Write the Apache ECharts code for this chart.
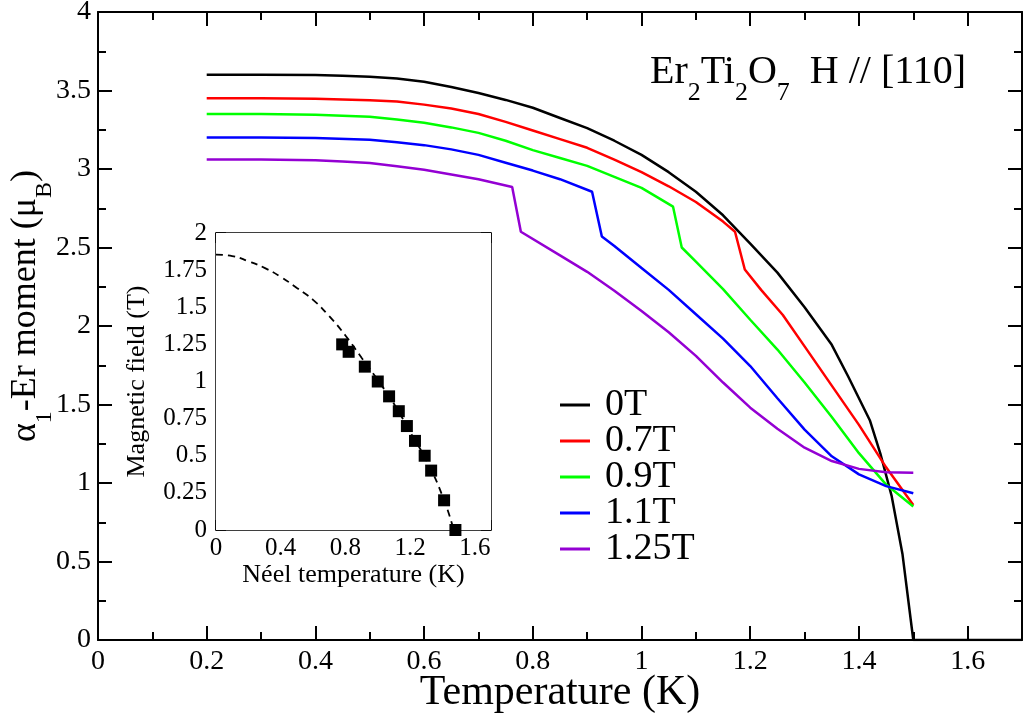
<!DOCTYPE html>
<html>
<head>
<meta charset="utf-8">
<script src="https://cdn.jsdelivr.net/npm/echarts/dist/echarts.min.js"></script>
<style>
  html, body { margin: 0; padding: 0; background: #fff; }
  #chart { width: 1028px; height: 717px; }
  /* warm up the serif face before the canvas asks for it */
  .warm { position: absolute; left: -2000px; top: 0; font-family: 'Liberation Serif'; font-size: 30px; }
</style>
</head>
<body>
<span class="warm">0123456789.T Temperature αμ</span>
<div id="chart"></div>
<script>
// main panel: ordered moment vs temperature, one curve per field
const fieldNames = ['0T', '0.7T', '0.9T', '1.1T', '1.25T']
const fieldColors = ['#000000', '#ff0000', '#00ff00', '#0000ff', '#9400d3']

const temp0T = [0.2, 0.3, 0.4, 0.45, 0.5, 0.55, 0.6, 0.65, 0.7, 0.75, 0.8, 0.85, 0.9, 0.95, 1.0, 1.05, 1.1, 1.15, 1.2, 1.25, 1.3, 1.35, 1.38, 1.4, 1.42, 1.44, 1.46, 1.48, 1.5, 1.7]
const moment0T = [3.6, 3.6, 3.598, 3.594, 3.588, 3.577, 3.556, 3.522, 3.484, 3.44, 3.39, 3.325, 3.26, 3.18, 3.09, 2.98, 2.855, 2.705, 2.525, 2.34, 2.12, 1.88, 1.68, 1.54, 1.4, 1.18, 0.92, 0.55, 0, 0]

const temp07T = [0.2, 0.3, 0.4, 0.5, 0.55, 0.6, 0.65, 0.7, 0.75, 0.8, 0.85, 0.9, 0.95, 1.0, 1.05, 1.1, 1.15, 1.172, 1.19, 1.22, 1.26, 1.3, 1.35, 1.4, 1.45, 1.5]
const moment07T = [3.45, 3.45, 3.447, 3.438, 3.43, 3.41, 3.385, 3.35, 3.3, 3.245, 3.19, 3.135, 3.06, 2.98, 2.89, 2.79, 2.665, 2.6, 2.36, 2.23, 2.07, 1.87, 1.62, 1.37, 1.1, 0.86]

const temp09T = [0.2, 0.3, 0.4, 0.5, 0.55, 0.6, 0.65, 0.7, 0.75, 0.8, 0.85, 0.9, 0.95, 1.0, 1.058, 1.074, 1.1, 1.15, 1.2, 1.25, 1.3, 1.35, 1.4, 1.45, 1.5]
const moment09T = [3.35, 3.35, 3.345, 3.333, 3.316, 3.295, 3.265, 3.23, 3.18, 3.12, 3.07, 3.02, 2.95, 2.88, 2.76, 2.5, 2.41, 2.235, 2.04, 1.85, 1.64, 1.42, 1.19, 0.99, 0.85]

const temp11T = [0.2, 0.3, 0.4, 0.5, 0.55, 0.6, 0.65, 0.7, 0.75, 0.8, 0.85, 0.909, 0.927, 0.95, 1.0, 1.05, 1.1, 1.15, 1.2, 1.25, 1.3, 1.35, 1.4, 1.45, 1.5]
const moment11T = [3.2, 3.2, 3.197, 3.186, 3.17, 3.152, 3.125, 3.09, 3.04, 2.99, 2.935, 2.855, 2.57, 2.51, 2.37, 2.23, 2.075, 1.92, 1.745, 1.54, 1.34, 1.17, 1.055, 0.98, 0.935]

const temp125T = [0.2, 0.3, 0.4, 0.45, 0.5, 0.55, 0.6, 0.65, 0.7, 0.762, 0.778, 0.85, 0.9, 0.95, 1.0, 1.05, 1.1, 1.15, 1.2, 1.25, 1.3, 1.35, 1.4, 1.45, 1.5]
const moment125T = [3.06, 3.06, 3.055, 3.048, 3.038, 3.018, 2.995, 2.965, 2.935, 2.885, 2.6, 2.45, 2.345, 2.225, 2.095, 1.96, 1.81, 1.64, 1.48, 1.345, 1.225, 1.14, 1.09, 1.068, 1.065]

// inset: phase boundary (field vs Neel temperature)
const neelTemp = [0.78, 0.82, 0.92, 1.0, 1.07, 1.13, 1.18, 1.23, 1.29, 1.33, 1.41, 1.48]
const neelField = [1.25, 1.2, 1.1, 1.0, 0.9, 0.8, 0.7, 0.6, 0.5, 0.4, 0.2, 0]

const guideTemp = [0, 0.1, 0.2, 0.3, 0.4, 0.5, 0.6, 0.7, 0.8, 0.9, 1.0, 1.1, 1.2, 1.3, 1.4, 1.47]
const guideField = [1.855, 1.845, 1.81, 1.765, 1.705, 1.63, 1.55, 1.44, 1.31, 1.16, 1.01, 0.85, 0.66, 0.47, 0.23, 0]

const fieldTemps = [temp0T, temp07T, temp09T, temp11T, temp125T]
const fieldMoments = [moment0T, moment07T, moment09T, moment11T, moment125T]

const FONT = 'Liberation Serif'

function zip(xs, ys) {
  return xs.map((x, i) => [x, ys[i]])
}

// only label ticks that sit on the step (hides the 1.7 end)
function stepLabel(step) {
  return function (v) {
    const k = v / step
    if (Math.abs(k - Math.round(k)) > 1e-6) return ''
    return String(Number(v.toFixed(2)))
  }
}

function makeAxis(o) {
  return {
    type: 'value',
    gridIndex: o.grid,
    position: o.position,
    min: o.min,
    max: o.max,
    interval: o.interval,
    splitLine: { show: false },
    axisLine: { show: true, onZero: false, lineStyle: { color: '#000', width: o.lw } },
    axisTick: { show: true, inside: true, length: o.tick, lineStyle: { color: '#000', width: o.lw } },
    minorTick: { show: true, splitNumber: 2, length: o.minor, lineStyle: { color: '#000', width: o.lw } },
    axisLabel: {
      show: !!o.labels,
      margin: o.margin,
      color: '#000',
      fontFamily: FONT,
      fontSize: o.fontSize,
      formatter: stepLabel(o.interval),
      showMinLabel: true,
      showMaxLabel: true
    },
    name: o.name,
    nameLocation: 'middle',
    nameGap: o.nameGap,
    nameMoveOverlap: false,
    nameTextStyle: o.nameStyle
  }
}

const mainSeries = fieldNames.map((name, i) => ({
  name: name,
  type: 'line',
  xAxisIndex: 0,
  yAxisIndex: 0,
  data: zip(fieldTemps[i], fieldMoments[i]),
  showSymbol: false,
  symbol: 'none',
  smooth: false,
  lineStyle: { color: fieldColors[i], width: 2.5 },
  itemStyle: { color: fieldColors[i] },
  z: 3
}))

const option = {
  animation: false,
  backgroundColor: '#fff',
  textStyle: { fontFamily: FONT, color: '#000' },
  title: {
    left: 645,
    top: 47,
    text: '{a|Er}{s|2}{a|Ti}{s|2}{a|O}{s|7}{a|  H // [110]}',
    textStyle: {
      fontFamily: FONT,
      fontWeight: 'normal',
      rich: {
        a: { fontFamily: FONT, fontWeight: 'normal', fontSize: 40, color: '#000', lineHeight: 40, verticalAlign: 'top' },
        s: { fontFamily: FONT, fontWeight: 'normal', fontSize: 26, color: '#000', lineHeight: 26, verticalAlign: 'top', padding: [28, 0, 0, 0] }
      }
    }
  },
  legend: {
    data: fieldNames,
    orient: 'vertical',
    left: 555,
    top: 381,
    icon: 'rect',
    itemWidth: 30,
    itemHeight: 3,
    itemGap: -2,
    textStyle: { fontFamily: FONT, fontSize: 38, color: '#000', lineHeight: 36, padding: [0, 0, 0, 10] }
  },
  grid: [
    { left: 98, top: 12, right: 6, bottom: 77, outerBoundsMode: 'none', containLabel: false },
    { left: 216, top: 233, width: 275, height: 297, outerBoundsMode: 'none', containLabel: false, show: true, backgroundColor: '#fff', borderWidth: 0, z: 5 }
  ],
  xAxis: [
    makeAxis({
      grid: 0, position: 'bottom', min: 0, max: 1.7, interval: 0.2, lw: 2, tick: 14, minor: 8,
      labels: true, margin: 8, fontSize: 28,
      name: 'Temperature (K)', nameGap: 32,
      nameStyle: { fontFamily: FONT, fontSize: 42, color: '#000' }
    }),
    makeAxis({ grid: 0, position: 'top', min: 0, max: 1.7, interval: 0.2, lw: 2, tick: 14, minor: 8 }),
    makeAxis({
      grid: 1, position: 'bottom', min: 0, max: 1.7, interval: 0.4, lw: 1.5, tick: 10, minor: 6,
      labels: true, margin: 6, fontSize: 25,
      name: 'Néel temperature (K)', nameGap: 32,
      nameStyle: { fontFamily: FONT, fontSize: 26, color: '#000' }
    }),
    makeAxis({ grid: 1, position: 'top', min: 0, max: 1.7, interval: 0.4, lw: 1.5, tick: 10, minor: 6 })
  ],
  yAxis: [
    makeAxis({
      grid: 0, position: 'left', min: 0, max: 4, interval: 0.5, lw: 2, tick: 14, minor: 8,
      labels: true, margin: 7, fontSize: 28,
      name: '{a|α}{s|1}{a|-Er moment (μ}{s|B}{a|)}', nameGap: 52,
      nameStyle: {
        padding: [0, 0, 0, 40],
        rich: {
          a: { fontFamily: FONT, fontSize: 36, color: '#000', lineHeight: 38, verticalAlign: 'top' },
          s: { fontFamily: FONT, fontSize: 24, color: '#000', lineHeight: 24, verticalAlign: 'top', padding: [25, 0, 0, 0] }
        }
      }
    }),
    makeAxis({ grid: 0, position: 'right', min: 0, max: 4, interval: 0.5, lw: 2, tick: 14, minor: 8 }),
    makeAxis({
      grid: 1, position: 'left', min: 0, max: 2, interval: 0.25, lw: 1.5, tick: 10, minor: 6,
      labels: true, margin: 9, fontSize: 25,
      name: 'Magnetic field (T)', nameGap: 66,
      nameStyle: { fontFamily: FONT, fontSize: 26, color: '#000' }
    }),
    makeAxis({ grid: 1, position: 'right', min: 0, max: 2, interval: 0.25, lw: 1.5, tick: 10, minor: 6 })
  ],
  series: mainSeries.concat([
    {
      name: 'guide',
      type: 'line',
      xAxisIndex: 2,
      yAxisIndex: 2,
      data: zip(guideTemp, guideField),
      showSymbol: false,
      symbol: 'none',
      smooth: true,
      lineStyle: { color: '#000', width: 1.8, type: [7, 5] },
      z: 6
    },
    {
      name: 'neel',
      type: 'scatter',
      xAxisIndex: 2,
      yAxisIndex: 2,
      data: zip(neelTemp, neelField),
      symbol: 'rect',
      symbolSize: 12,
      itemStyle: { color: '#000', opacity: 1 },
      z: 7
    }
  ])
}

const myChart = echarts.init(document.getElementById('chart'))
myChart.setOption(option)

// draw once more after the font is surely resolved
function redraw() {
  myChart.clear()
  myChart.setOption(option, true)
}
if (document.fonts && document.fonts.ready) {
  document.fonts.ready.then(redraw)
}
requestAnimationFrame(redraw)
</script>
</body>
</html>
